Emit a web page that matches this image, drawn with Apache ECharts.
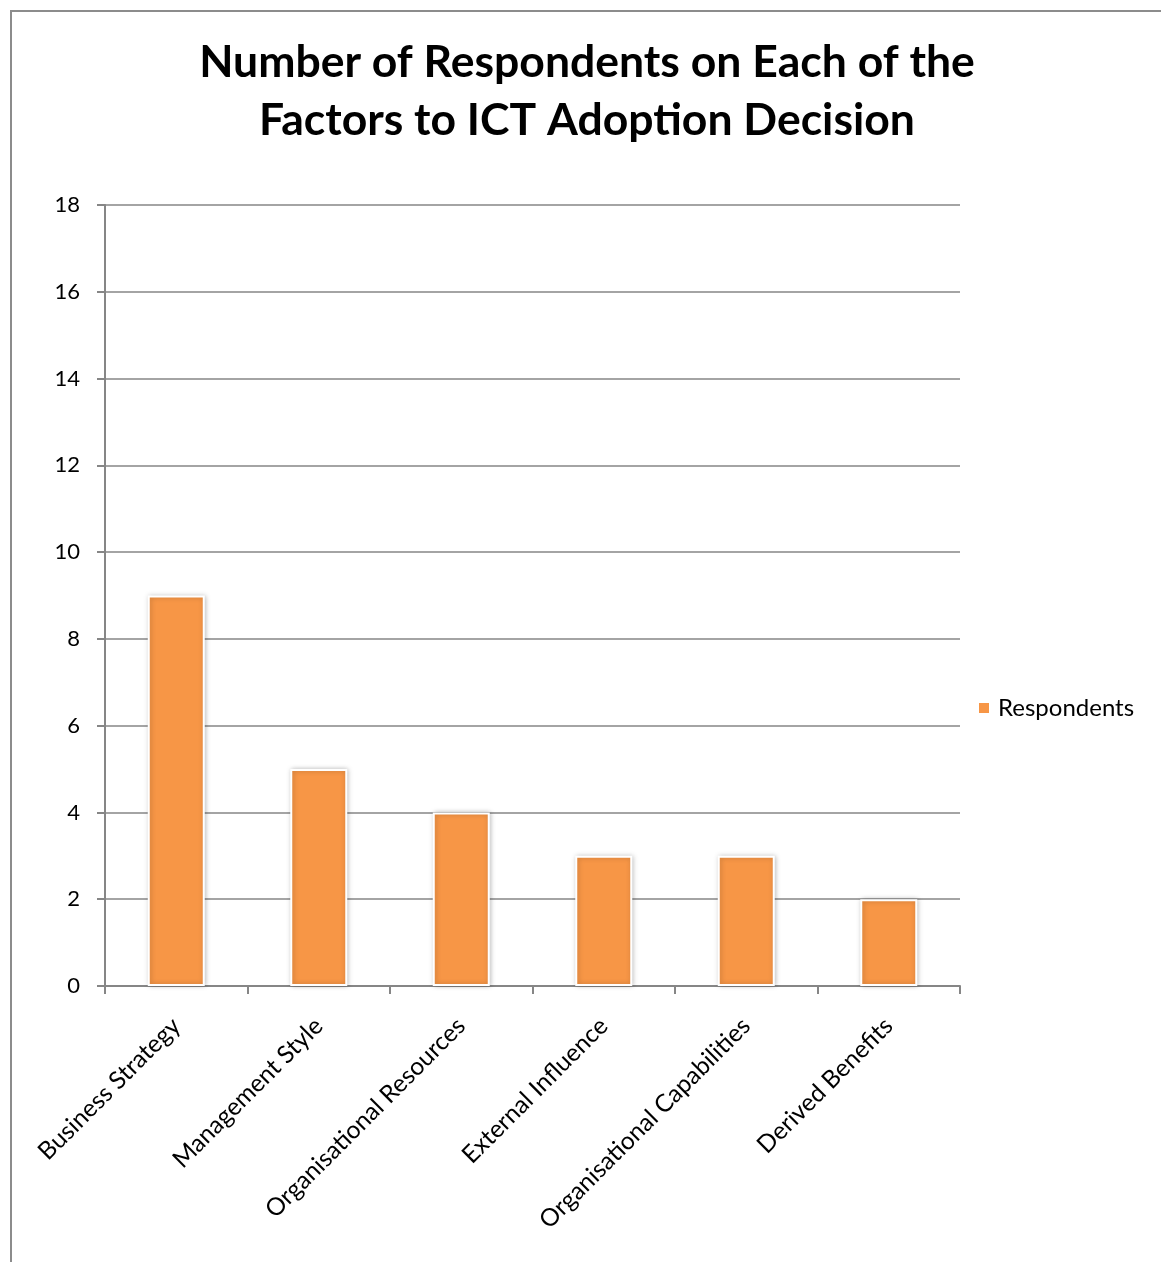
<!DOCTYPE html>
<html>
<head>
<meta charset="utf-8">
<script src="https://cdn.jsdelivr.net/npm/echarts@6/dist/echarts.min.js"></script>
<style>
  html, body { margin: 0; padding: 0; background: #fff; }
  #frame { position: absolute; left: 10px; top: 10px; width: 1151px; height: 1252px;
           border-left: 2px solid #8c8c8c; border-top: 2px solid #8c8c8c; box-sizing: border-box; }
  #chart { position: absolute; left: 0; top: 0; width: 1161px; height: 1262px; }
</style>
</head>
<body>
<div id="frame"></div>
<div id="chart"></div>
<script>
// Factors influencing the ICT adoption decision and how many respondents named each
const categories = [
  'Business Strategy',
  'Management Style',
  'Organisational Resources',
  'External Influence',
  'Organisational Capabilities',
  'Derived Benefits'
];
const respondents = [9, 5, 4, 3, 3, 2];
const seriesName = 'Respondents';

const font = 'Lato, "Open Sans", sans-serif';
const chart = echarts.init(document.getElementById('chart'), null, { renderer: 'canvas' });

chart.setOption({
  backgroundColor: 'transparent',
  animation: false,
  title: {
    text: 'Number of Respondents on Each of the\nFactors to ICT Adoption Decision',
    left: 582,
    top: 29,
    textAlign: 'center',
    textStyle: {
      fontFamily: font,
      fontWeight: 'bold',
      fontSize: 44.5,
      lineHeight: 58,
      color: '#000'
    }
  },
  legend: {
    data: [seriesName],
    left: 977,
    top: 696,
    padding: 0,
    orient: 'vertical',
    icon: 'rect',
    itemWidth: 12,
    itemHeight: 12,
    textStyle: { fontFamily: font, fontSize: 24, color: '#000', padding: [0, 0, 0, 3] }
  },
  grid: { left: 105, right: 201, top: 205, bottom: 276, containLabel: false },
  xAxis: {
    type: 'category',
    data: categories,
    axisLine: { lineStyle: { color: '#868686', width: 2 } },
    axisTick: { show: true, length: 8, alignWithLabel: false, lineStyle: { color: '#868686', width: 2 } },
    axisLabel: {
      rotate: 45,
      interval: 0,
      margin: 36,
      fontFamily: font,
      fontSize: 24.5,
      color: '#000'
    }
  },
  yAxis: {
    type: 'value',
    min: 0,
    max: 18,
    interval: 2,
    axisLine: { show: true, lineStyle: { color: '#868686', width: 2 } },
    axisTick: { show: true, inside: false, length: 8, lineStyle: { color: '#868686', width: 2 } },
    splitLine: { show: true, lineStyle: { color: '#868686', width: 1.5 } },
    axisLabel: { margin: 25, fontFamily: font, fontSize: 22, color: '#000' }
  },
  series: [{
    name: seriesName,
    type: 'bar',
    data: respondents,
    barWidth: '40%',
    itemStyle: {
      color: '#F79646',
      borderColor: '#fff',
      borderWidth: 2,
      shadowColor: 'rgba(0,0,0,0.25)',
      shadowBlur: 5,
      shadowOffsetX: 1,
      shadowOffsetY: 0
    }
  }]
});
</script>
</body>
</html>
